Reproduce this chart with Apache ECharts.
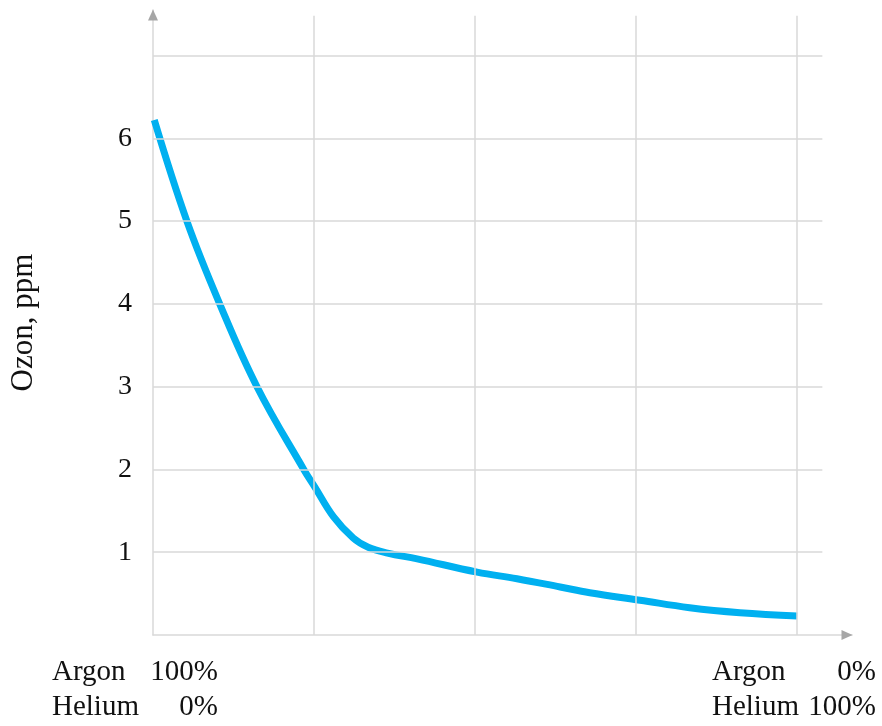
<!DOCTYPE html>
<html>
<head>
<meta charset="utf-8">
<script src="https://cdn.jsdelivr.net/npm/echarts@6/dist/echarts.min.js"></script>
<style>html,body{margin:0;padding:0;background:#fff}#c{width:882px;height:726px}</style>
</head>
<body>
<div id="c"></div>
<script>
// Data (x = % helium, y = ozone ppm)
const heliumPct = [0.2, 5.3, 10.3, 16.2, 23.4, 25.1, 28.0, 31.1, 33.4, 36.4, 41.0, 50.3, 56.5, 63.2, 67.8, 75.6, 83.3, 91.1, 100];
const ozonePpm  = [6.22, 4.99, 4.01, 2.99, 2.0, 1.79, 1.43, 1.17, 1.06, 0.99, 0.92, 0.76, 0.68, 0.58, 0.51, 0.42, 0.33, 0.27, 0.23];
const xGridVals = [25, 50, 75, 100];
const yGridVals = [1, 2, 3, 4, 5, 6, 7];
const yTickLabels = ['1', '2', '3', '4', '5', '6'];
const yAxisName = 'Ozon, ppm';
const leftLabels = [['Argon', '100%'], ['Helium', '0%']];
const rightLabels = [['Argon', '0%'], ['Helium', '100%']];

const X_MAX = 108.5, Y_MAX = 7.55;
const GRID_X_END = 103.9, GRID_Y_END = 7.48;
const FONT = "'Liberation Serif', 'Times New Roman', serif";
const GRID_COLOR = '#d9d9d9';

const chart = echarts.init(document.getElementById('c'), null, {renderer: 'canvas'});

const lineData = heliumPct.map((x, i) => [x, ozonePpm[i]]);
const gridLines = [];
xGridVals.forEach(v => gridLines.push([{coord: [v, 0]}, {coord: [v, GRID_Y_END]}]));
yGridVals.forEach(v => gridLines.push([{coord: [0, v]}, {coord: [GRID_X_END, v]}]));

const graphics = [];
function addBlock(rows, left, right) {
  rows.forEach((r, i) => {
    const y = 675 + i * 35;
    graphics.push({type: 'text', left: left, top: y - 17, style: {text: r[0], font: '29px ' + FONT, fill: '#111'}});
    graphics.push({type: 'text', right: 882 - right, top: y - 17, style: {text: r[1], font: '29px ' + FONT, fill: '#111', textAlign: 'right'}});
  });
}
addBlock(leftLabels, 52, 218);
addBlock(rightLabels, 712, 876);

chart.setOption({
  animation: false,
  backgroundColor: '#fff',
  grid: {left: 152, top: 10, right: 30, bottom: 91, containLabel: false},
  xAxis: {
    type: 'value', min: 0, max: X_MAX,
    axisLine: {show: true, lineStyle: {color: GRID_COLOR, width: 1.5}},
    axisTick: {show: false}, axisLabel: {show: false}, splitLine: {show: false}
  },
  yAxis: {
    type: 'value', min: 0, max: Y_MAX, interval: 1,
    name: yAxisName, nameLocation: 'middle', nameGap: 114,
    nameTextStyle: {fontFamily: FONT, fontSize: 31, color: '#111'},
    axisLine: {show: true, lineStyle: {color: GRID_COLOR, width: 1.5}},
    axisTick: {show: false}, splitLine: {show: false},
    axisLabel: {
      margin: 21, fontFamily: FONT, fontSize: 28, color: '#111',
      formatter: v => (Number.isInteger(v) && yTickLabels.indexOf(String(v)) >= 0) ? String(v) : ''
    }
  },
  graphic: graphics,
  series: [
    {
      type: 'line', data: [], z: 1, silent: true,
      markLine: {silent: true, symbol: ['none', 'none'], label: {show: false},
        lineStyle: {color: GRID_COLOR, type: 'solid', width: 1.5}, data: gridLines},
      markPoint: {silent: true, label: {show: false},
        itemStyle: {color: '#a6a6a6'},
        data: [
          {coord: [X_MAX, 0], symbol: 'triangle', symbolSize: [10, 11], symbolRotate: -90, symbolOffset: [-5, 0]},
          {coord: [0, Y_MAX], symbol: 'triangle', symbolSize: [10, 11], symbolRotate: 0, symbolOffset: [0, 5]}
        ]}
    },
    {
      type: 'line', data: lineData, z: 3, smooth: 0.4, showSymbol: false, symbol: 'none',
      lineStyle: {color: '#00b0f0', width: 7, cap: 'butt'}
    }
  ]
});
</script>
</body>
</html>
